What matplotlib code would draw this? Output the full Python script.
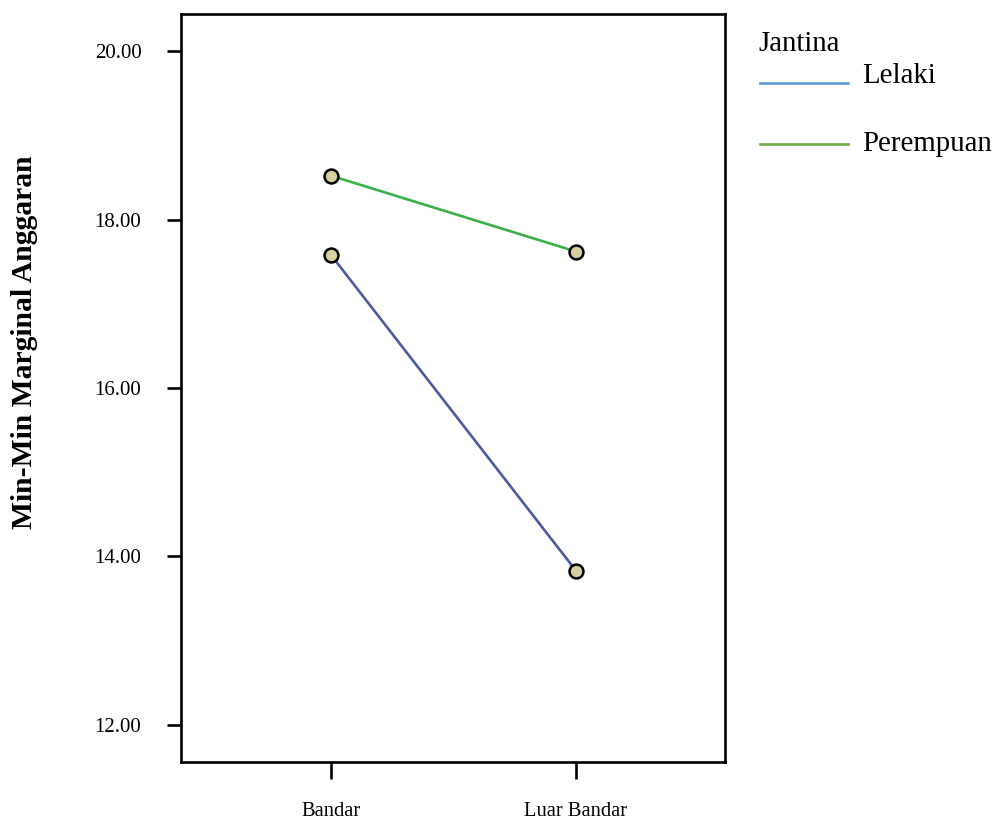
import matplotlib
matplotlib.use("Agg")
import matplotlib.pyplot as plt
from matplotlib.lines import Line2D

# Data
categories = ["Bandar", "Luar Bandar"]
series_names = ["Lelaki", "Perempuan"]
lelaki = [17.58, 13.83]
perempuan = [18.52, 17.62]
yticks = [12.0, 14.0, 16.0, 18.0, 20.0]
ytick_labels = ["12.00", "14.00", "16.00", "18.00", "20.00"]

plt.rcParams['font.family'] = ['Liberation Serif', 'DejaVu Serif']

W, H = 996, 823
fig = plt.figure(figsize=(W / 100, H / 100), dpi=100)
ax = fig.add_axes([181 / W, 1 - 762 / H, (725 - 181) / W, (762 - 14) / H])

x = list(range(len(categories)))
line_colors = ["#4a5ba0", "#3daf4a"]
legend_colors = ["#5b9bd5", "#70ad47"]
marker_kw = dict(marker='o', markersize=10, markerfacecolor='#d6cf9f',
                 markeredgecolor='black', markeredgewidth=1.8)

ax.plot(x, lelaki, color=line_colors[0], lw=1.9, zorder=2, **marker_kw)
ax.plot(x, perempuan, color=line_colors[1], lw=1.9, zorder=2, **marker_kw)

ax.set_xlim(-0.612, 1.608)
ax.set_ylim(11.56, 20.44)
ax.set_xticks(x)
ax.set_xticklabels(categories, fontsize=14.8)
ax.set_yticks(yticks)
ax.set_yticklabels(ytick_labels, fontsize=15)

for s in ax.spines.values():
    s.set_linewidth(1.9)
ax.tick_params(axis='y', direction='out', length=10, width=1.9, pad=18.5)
ax.tick_params(axis='x', direction='out', length=12, width=1.9, pad=17)

fig.text(25 / W, 1 - 342 / H, "Min-Min Marginal Anggaran", rotation=90,
         fontsize=21.3, fontweight='bold', ha='center', va='center')

# Legend
fig.text(758 / W, 1 - 51 / H, "Jantina", fontsize=20.8, ha='left', va='baseline')
for name, c, ly, ty in [(series_names[0], legend_colors[0], 83, 83),
                        (series_names[1], legend_colors[1], 144, 151)]:
    fig.add_artist(Line2D([760 / W, 848 / W], [1 - ly / H, 1 - ly / H],
                          transform=fig.transFigure, color=c, lw=1.9))
    fig.text(862 / W, 1 - ty / H, name, fontsize=20.8, ha='left', va='baseline')

fig.savefig("out.png", dpi=100)
